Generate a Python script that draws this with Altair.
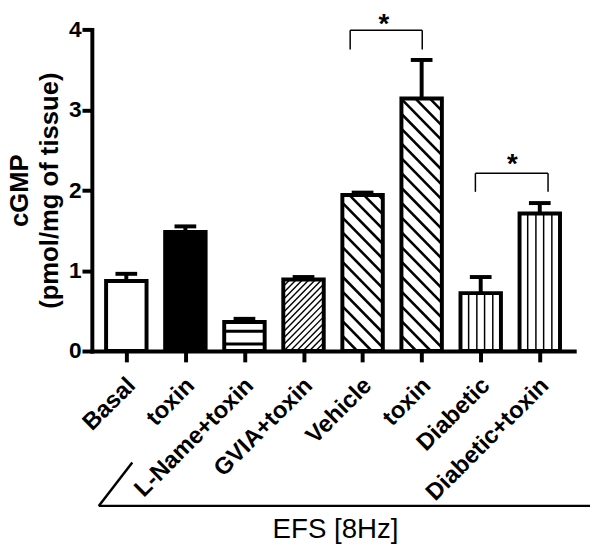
import json
import altair as alt
import pandas as pd

# ---------------- data ----------------
categories = ["Basal", "toxin", "L-Name+toxin", "GVIA+toxin",
              "Vehicle", "toxin", "Diabetic", "Diabetic+toxin"]
means = [0.87, 1.48, 0.36, 0.89, 1.94, 3.14, 0.72, 1.71]
upper = [0.96, 1.55, 0.40, 0.92, 1.97, 3.62, 0.92, 1.84]
patterns = ["open", "solid", "hlines", "fine_diag", "wide_diag", "wide_diag", "vlines", "vlines"]

sig_left = [3.79, 5.91]
sig_right = [5.01, 7.14]
sig_top = [3.99, 2.21]
sig_drop = [3.75, 1.98]
star_x = [4.36, 6.535]
star_y = [3.96, 2.21]
star_text = ["*", "*"]

y_ticks = [0, 1, 2, 3, 4]
y_title = ["cGMP", "(pmol/mg of tissue)"]
group_label = "EFS [8Hz]"

# ---------------- geometry ----------------
W, H = 489, 326
X0, X1 = -0.5, 7.5
Y0, Y1 = 0, 4
SX = W / (X1 - X0)
SY = H / (Y1 - Y0)
BAR_PX = 41
FONT = "Liberation Sans"


def to_dx(px):
    return px / SX + X0


def to_dy(py):
    return (H - py) / SY


df = pd.DataFrame({
    "idx": list(range(len(categories))),
    "cat": categories,
    "mean": means,
    "upper": upper,
    "fill": ["black" if p == "solid" else "white" for p in patterns],
})

# hatch segments (pixel geometry derived from the bar values)
segs = []
half = BAR_PX / 2
for i, (v, p) in enumerate(zip(means, patterns)):
    cx = (i - X0) * SX
    xl, xr = cx - half, cx + half
    top, bot = H - v * SY, H
    if p == "hlines":
        for h in (7, 20):
            py = bot - h
            if py > top:
                segs.append((xl, py, xr, py, 3.0))
    elif p == "vlines":
        for off in (-12.5, -4, 4, 12.5):
            segs.append((cx + off, top, cx + off, bot, 1.5))
    elif p == "wide_diag":  # "\" lines: y = x + c
        s, w = 15.0, 2.6
        c = bot - xl
        while c > top - xr:
            xs = max(xl, top - c)
            xe = min(xr, bot - c)
            if xe > xs:
                segs.append((xs, xs + c, xe, xe + c, w))
            c -= s
    elif p == "fine_diag":  # "/" lines: y = -x + c
        s, w = 6.6, 1.4
        c = xl + top
        while c < xr + bot:
            xs = max(xl, c - bot)
            xe = min(xr, c - top)
            if xe > xs:
                segs.append((xs, c - xs, xe, c - xe, w))
            c += s

hatch = pd.DataFrame({
    "x": [to_dx(s[0]) for s in segs],
    "y": [to_dy(s[1]) for s in segs],
    "x2": [to_dx(s[2]) for s in segs],
    "y2": [to_dy(s[3]) for s in segs],
    "w": [s[4] for s in segs],
})

sig = pd.DataFrame({"l": sig_left, "r": sig_right, "t": sig_top, "b": sig_drop})
stars = pd.DataFrame({"x": star_x, "y": star_y, "t": star_text})

xscale = alt.Scale(domain=[X0, X1], nice=False, zero=False)
yscale = alt.Scale(domain=[Y0, Y1], nice=False, zero=True)

label_expr = json.dumps(categories) + "[datum.value]"

x_axis = alt.Axis(values=list(range(len(categories))), labelExpr=label_expr,
                  title="", grid=False, labelAngle=-45, labelAlign="right",
                  labelBaseline="middle", labelFont=FONT, labelFontSize=24,
                  labelFontWeight="bold", labelColor="black", labelPadding=20,
                  labelOffset=5,
                  labelOverlap=False, labelFlush=False, labelLimit=400,
                  tickSize=11, tickWidth=4, tickColor="black",
                  domainWidth=4, domainColor="black", domainCap="square")
y_axis = alt.Axis(values=y_ticks, format="d", title=y_title, grid=False,
                  labelFont=FONT, labelFontSize=23, labelFontWeight="bold",
                  labelColor="black", labelPadding=1,
                  tickSize=10, tickWidth=4, tickColor="black",
                  domainWidth=4, domainColor="black", domainCap="square",
                  titleFont=FONT, titleFontSize=26, titleFontWeight="bold",
                  titleColor="black", titlePadding=6, titleLineHeight=30)

base = alt.Chart(df)

fill_bars = base.mark_bar(size=BAR_PX, strokeWidth=0).encode(
    x=alt.X("idx:Q", scale=xscale, axis=x_axis),
    y=alt.Y("mean:Q", scale=yscale, axis=y_axis),
    fill=alt.Fill("fill:N", scale=None),
)

hatch_lines = alt.Chart(hatch).mark_rule(color="black", strokeCap="butt").encode(
    x="x:Q", y="y:Q", x2="x2:Q", y2="y2:Q",
    strokeWidth=alt.StrokeWidth("w:Q", scale=None),
)

outline = base.mark_bar(size=BAR_PX, fillOpacity=0, stroke="black", strokeWidth=4).encode(
    x="idx:Q", y="mean:Q",
)

err_line = base.mark_rule(color="black", strokeWidth=4).encode(
    x="idx:Q", y="mean:Q", y2="upper:Q",
)
err_cap = base.mark_tick(orient="horizontal", size=22, thickness=4,
                         color="black", opacity=1).encode(
    x="idx:Q", y="upper:Q",
)

sig_h = alt.Chart(sig).mark_rule(color="black", strokeWidth=1.5).encode(
    x="l:Q", x2="r:Q", y="t:Q")
sig_l = alt.Chart(sig).mark_rule(color="black", strokeWidth=1.5).encode(
    x="l:Q", y="t:Q", y2="b:Q")
sig_r = alt.Chart(sig).mark_rule(color="black", strokeWidth=1.5).encode(
    x="r:Q", y="t:Q", y2="b:Q")
star_marks = alt.Chart(stars).mark_text(font=FONT, fontSize=28, fontWeight="bold",
                                        baseline="alphabetic", align="center",
                                        color="black").encode(
    x="x:Q", y="y:Q", text="t:N")

one = pd.DataFrame({"t": [group_label]})
bottom_line = alt.Chart(one).mark_rule(color="black", strokeWidth=2.5).encode(
    x=alt.value(7), x2=alt.value(505), y=alt.value(483))
diag_line = alt.Chart(one).mark_rule(color="black", strokeWidth=2.5).encode(
    x=alt.value(7), y=alt.value(483), x2=alt.value(41), y2=alt.value(439))
group_text = alt.Chart(one).mark_text(font=FONT, fontSize=28, baseline="alphabetic",
                                      align="center", color="black").encode(
    x=alt.value(247), y=alt.value(516), text="t:N")

chart = alt.layer(
    fill_bars, hatch_lines, outline, err_line, err_cap,
    sig_h, sig_l, sig_r, star_marks, bottom_line, diag_line, group_text,
).properties(
    width=W, height=H,
    autosize=alt.AutoSizeParams(type="none"),
    padding={"left": 85, "top": 18, "right": 18, "bottom": 197},
    background="white",
).configure_view(stroke=None)

chart.save("out.html", embed_options={"renderer": "svg", "actions": False})
